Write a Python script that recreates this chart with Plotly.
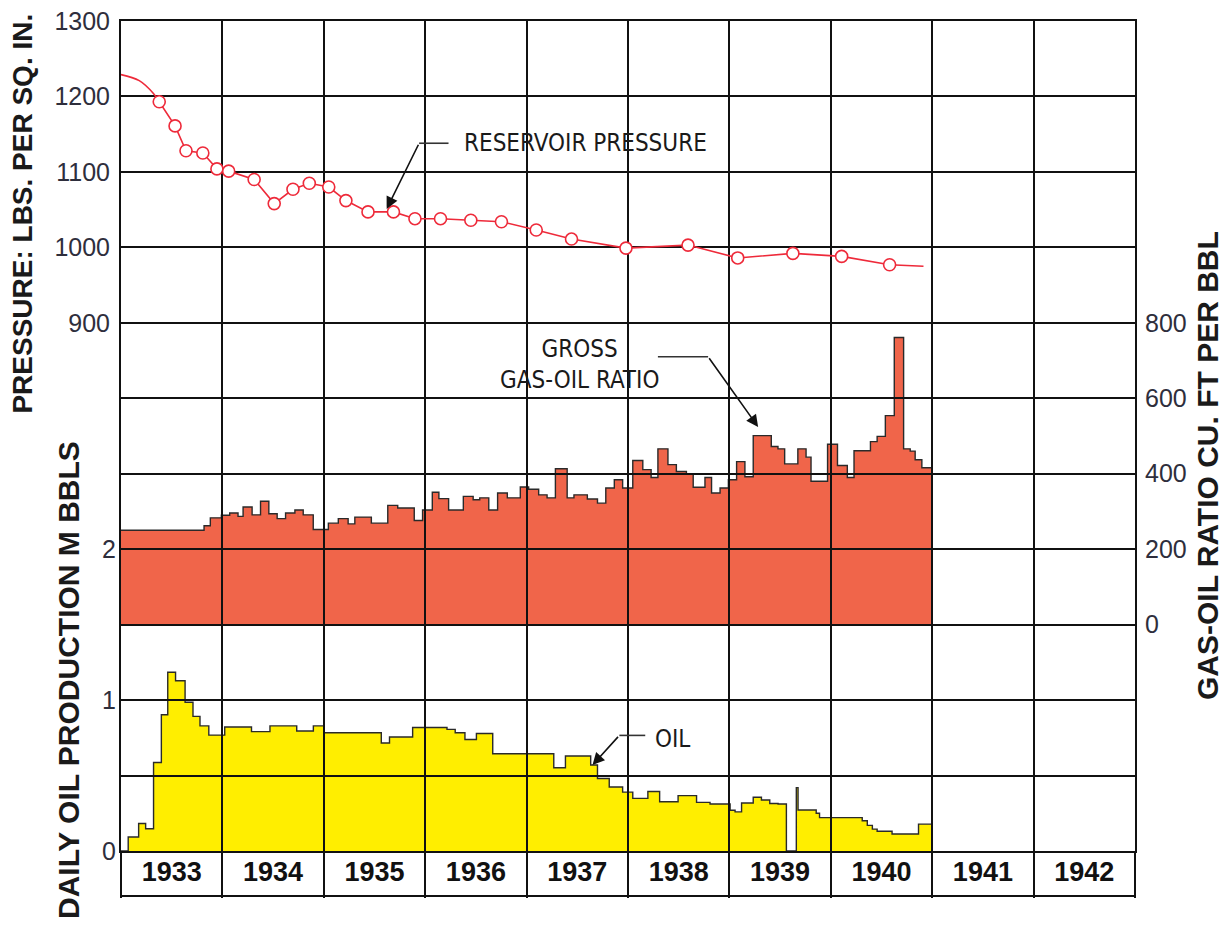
import plotly.graph_objects as go

# ---- data -------------------------------------------------------------
years = [1933, 1934, 1935, 1936, 1937, 1938, 1939, 1940, 1941, 1942]
year_labels = [str(y) for y in years]

# reservoir pressure survey points (lbs per sq. in.)
pressure_years = [1933.377, 1933.533, 1933.641, 1933.807, 1933.946, 1934.062,
                  1934.313, 1934.511, 1934.696, 1934.857, 1935.049, 1935.218,
                  1935.436, 1935.687, 1935.899, 1936.151, 1936.45, 1936.752,
                  1937.095, 1937.443, 1937.98, 1938.592, 1939.082, 1939.626,
                  1940.107, 1940.58]
pressure_psi = [1193, 1161, 1128, 1125, 1104, 1101, 1090, 1058, 1077, 1085,
                1080, 1062, 1047, 1047, 1038, 1038, 1036, 1034, 1023, 1011,
                999, 1003, 986, 992, 988, 977]
# early decline before the first survey, and the trailing end of the curve
lead_years = [1933.0, 1933.18, 1933.32, 1933.377]
lead_psi = [1229, 1221, 1204, 1193]
tail_years = [1940.914]
tail_psi = [975]

# gross gas-oil ratio (cu. ft per bbl), step changes
gor_years = [1933.0, 1933.819, 1933.881, 1933.99, 1934.072, 1934.154, 1934.204,
             1934.293, 1934.376, 1934.458, 1934.54, 1934.623, 1934.715, 1934.797,
             1934.896, 1935.045, 1935.143, 1935.24, 1935.306, 1935.469, 1935.631,
             1935.729, 1935.892, 1935.974, 1936.07, 1936.135, 1936.231, 1936.376,
             1936.473, 1936.538, 1936.627, 1936.714, 1936.81, 1936.938, 1937.02,
             1937.119, 1937.202, 1937.284, 1937.40, 1937.467, 1937.599, 1937.699,
             1937.781, 1937.865, 1937.947, 1938.047, 1938.146, 1938.228, 1938.295,
             1938.394, 1938.477, 1938.576, 1938.643, 1938.759, 1938.824, 1938.908,
             1938.99, 1939.071, 1939.153, 1939.235, 1939.413, 1939.479, 1939.545,
             1939.675, 1939.756, 1939.805, 1939.968, 1940.066, 1940.163, 1940.229,
             1940.391, 1940.457, 1940.538, 1940.626, 1940.718, 1940.783, 1940.832,
             1940.898, 1941.0]
gor_values = [250, 262, 283, 290, 296, 287, 312, 291, 327, 294, 281, 296, 304,
              291, 252, 269, 281, 267, 285, 269, 316, 309, 276, 304, 351, 334,
              304, 340, 331, 336, 304, 349, 336, 365, 359, 344, 336, 413, 336,
              344, 333, 322, 362, 384, 362, 435, 411, 390, 466, 424, 406, 400,
              364, 390, 349, 362, 384, 432, 392, 501, 472, 466, 426, 466, 444,
              380, 478, 422, 390, 461, 485, 499, 554, 761, 466, 460, 437, 416,
              416]

# daily oil production (thousand bbls), step changes
oil_years = [1933.0, 1933.071, 1933.174, 1933.243, 1933.321, 1933.398, 1933.461,
             1933.538, 1933.632, 1933.71, 1933.779, 1933.866, 1934.023, 1934.287,
             1934.469, 1934.733, 1934.897, 1935.0, 1935.567, 1935.648, 1935.876,
             1936.215, 1936.296, 1936.392, 1936.505, 1936.666, 1937.268, 1937.383,
             1937.632, 1937.699, 1937.815, 1937.947, 1938.047, 1938.196, 1938.312,
             1938.494, 1938.676, 1938.809, 1939.007, 1939.056, 1939.12, 1939.235,
             1939.316, 1939.398, 1939.48, 1939.562, 1939.66, 1939.677, 1939.856,
             1939.889, 1940.31, 1940.36, 1940.41, 1940.457, 1940.604, 1940.865,
             1941.0]
oil_values = [0, 0.093, 0.182, 0.147, 0.586, 0.903, 1.184, 1.128, 0.986, 0.892,
              0.829, 0.768, 0.822, 0.791, 0.829, 0.795, 0.829, 0.784, 0.716, 0.755,
              0.818, 0.806, 0.784, 0.739, 0.779, 0.644, 0.552, 0.63, 0.57, 0.48,
              0.424, 0.39, 0.349, 0.394, 0.326, 0.367, 0.322, 0.311, 0.27, 0.259,
              0.318, 0.356, 0.338, 0.315, 0.311, 0, 0.42, 0.272, 0.25, 0.221, 0.2,
              0.17, 0.145, 0.131, 0.113, 0.178, 0.178]

pressure_ticks = list(range(200, 1301, 100))
pressure_ticktext = [str(v) if v >= 900 else "" for v in pressure_ticks]
oil_ticks = [0, 1, 2]
gor_ticks = [0, 200, 400, 600, 800]

# ---- styling ----------------------------------------------------------
SANS = "Liberation Sans, Arial, sans-serif"
COND = "DejaVu Sans Condensed, Liberation Sans, sans-serif"
INK = "#1a1a1a"
TICK_INK = "#2e2e3c"
GRID = "#111111"
RED = "#ee2a3a"

x_lo, x_hi = years[0], years[-1] + 1
year_edges = list(range(x_lo, x_hi + 1))
year_centers = [y + 0.5 for y in years]

fig = go.Figure()

# gas-oil ratio area (lower subplot, right-hand scale)
fig.add_trace(go.Scatter(
    x=gor_years, y=gor_values, xaxis="x", yaxis="y3", mode="lines",
    line=dict(shape="hv", color="#2a2a2a", width=1.4),
    fill="tozeroy", fillcolor="#f0654a", hoverinfo="skip", showlegend=False))

# oil production area
fig.add_trace(go.Scatter(
    x=oil_years, y=oil_values, xaxis="x", yaxis="y", mode="lines",
    line=dict(shape="hv", color="#2a2a2a", width=1.4),
    fill="tozeroy", fillcolor="#ffee00", hoverinfo="skip", showlegend=False))

# pressure curve (upper subplot, drawn over the grid)
fig.add_trace(go.Scatter(
    x=lead_years, y=lead_psi, xaxis="x2", yaxis="y2", mode="lines",
    line=dict(shape="spline", color=RED, width=1.6), showlegend=False))
fig.add_trace(go.Scatter(
    x=pressure_years + tail_years, y=pressure_psi + tail_psi,
    xaxis="x2", yaxis="y2", mode="lines",
    line=dict(color=RED, width=1.6), showlegend=False))
fig.add_trace(go.Scatter(
    x=pressure_years, y=pressure_psi, xaxis="x2", yaxis="y2", mode="markers",
    marker=dict(symbol="circle", size=12, color="white",
                line=dict(color=RED, width=1.6)),
    showlegend=False))

tick_font = dict(family=SANS, size=25, color=TICK_INK)

fig.update_layout(
    width=1231, height=939,
    margin=dict(l=121, r=96, t=21, b=88),
    paper_bgcolor="white",
    plot_bgcolor="rgba(0,0,0,0)",
    showlegend=False,
    xaxis=dict(domain=[0, 1], range=[x_lo, x_hi], anchor="y", automargin=False,
               tickvals=year_centers, ticktext=year_labels, ticks="",
               showgrid=False, zeroline=False, showline=False,
               ticklabelstandoff=2,
               tickfont=dict(family=SANS, size=27, color="#111111", weight="bold")),
    yaxis=dict(domain=[0, 1], range=[0, 5.5], anchor="x", side="left",
               automargin=False,
               tickvals=oil_ticks, ticktext=[str(v) for v in oil_ticks],
               ticks="", showgrid=False, zeroline=False, showline=False,
               ticklabelstandoff=4, tickfont=tick_font),
    yaxis3=dict(overlaying="y", anchor="x", side="right", range=[-600, 1600],
                automargin=False,
                tickvals=gor_ticks, ticktext=[str(v) for v in gor_ticks],
                ticks="", showgrid=False, zeroline=False, showline=False,
                ticklabelstandoff=9, tickfont=tick_font),
    xaxis2=dict(domain=[0, 1], range=[x_lo, x_hi], anchor="y2", automargin=False,
                tickvals=year_edges, showticklabels=False,
                ticks="outside", ticklen=45, tickwidth=2, tickcolor=GRID,
                showgrid=True, gridcolor=GRID, gridwidth=2, zeroline=False,
                showline=True, mirror=True, linecolor=GRID, linewidth=2),
    yaxis2=dict(domain=[0, 1], range=[pressure_ticks[0], pressure_ticks[-1]],
                anchor="x2", side="left", automargin=False,
                tickvals=pressure_ticks, ticktext=pressure_ticktext, ticks="",
                showgrid=True, gridcolor=GRID, gridwidth=2, zeroline=False,
                showline=True, mirror=True, linecolor=GRID, linewidth=2,
                ticklabelstandoff=4, tickfont=tick_font),
)

# bottom edge of the year band
band_depth = 45 / 830
fig.add_shape(type="line", xref="x2", yref="paper", x0=x_lo, x1=x_hi,
              y0=-band_depth, y1=-band_depth, line=dict(color=GRID, width=2))

axis_titles = [
    ("PRESSURE: LBS. PER SQ. IN.", -0.0966, 0.768, 28),
    ("DAILY OIL PRODUCTION M BBLS", -0.0523, 0.206, 30),
    ("GAS-OIL RATIO CU. FT PER BBL", 1.071, 0.465, 30),
]
for text, px, py, size in axis_titles:
    fig.add_annotation(text=text, xref="paper", yref="paper", x=px, y=py,
                       xanchor="center", yanchor="middle", textangle=-90,
                       showarrow=False,
                       font=dict(family=SANS, size=size, color=INK, weight="bold"))

label_font = dict(family=COND, size=24, color=INK)
leader = dict(color="#333333", width=1.6)

# reservoir pressure label and leader
fig.add_annotation(text="RESERVOIR PRESSURE", xref="x2", yref="y2",
                   x=1936.36, y=1138, xanchor="left", yanchor="middle",
                   showarrow=False, font=label_font)
fig.add_shape(type="line", xref="x2", yref="y2", x0=1935.94, x1=1936.23,
              y0=1138, y1=1138, line=leader)
fig.add_annotation(text="", xref="x2", yref="y2", axref="x2", ayref="y2",
                   x=1935.62, y=1051, ax=1935.94, ay=1138, showarrow=True,
                   arrowhead=2, arrowsize=1.5, arrowwidth=1.6,
                   arrowcolor="#111111", standoff=0)

# gas-oil ratio label and leader
fig.add_annotation(text="GROSS<br>GAS-OIL RATIO", xref="x", yref="y3",
                   x=1937.52, y=690, xanchor="center", yanchor="middle",
                   showarrow=False, font=label_font, align="center")
fig.add_shape(type="line", xref="x", yref="y3", x0=1938.295, x1=1938.79,
              y0=710, y1=710, line=leader)
fig.add_annotation(text="", xref="x", yref="y3", axref="x", ayref="y3",
                   x=1939.283, y=524, ax=1938.79, ay=710, showarrow=True,
                   arrowhead=2, arrowsize=1.5, arrowwidth=1.6,
                   arrowcolor="#111111", standoff=0)

# oil label and leader
fig.add_annotation(text="OIL", xref="x", yref="y", x=1938.25, y=0.745,
                   xanchor="left", yanchor="middle", showarrow=False,
                   font=label_font)
fig.add_shape(type="line", xref="x", yref="y", x0=1937.915, x1=1938.17,
              y0=0.766, y1=0.766, line=leader)
fig.add_annotation(text="", xref="x", yref="y", axref="x", ayref="y",
                   x=1937.65, y=0.57, ax=1937.915, ay=0.766, showarrow=True,
                   arrowhead=2, arrowsize=1.5, arrowwidth=1.6,
                   arrowcolor="#111111", standoff=0)

fig.write_html("out.html")
